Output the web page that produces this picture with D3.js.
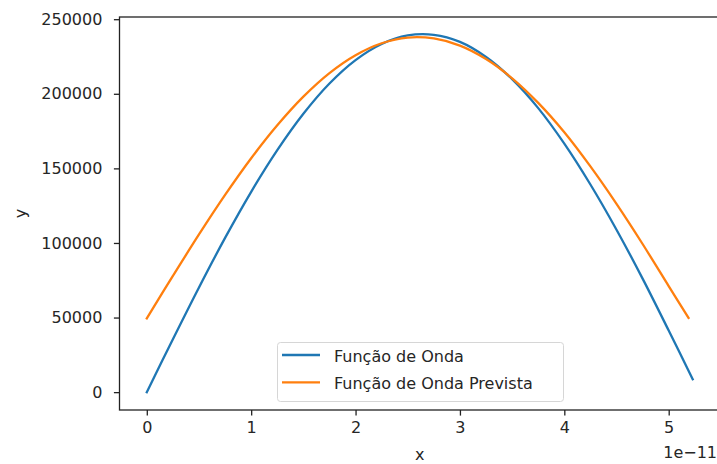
<!DOCTYPE html>
<html>
<head>
<meta charset="utf-8">
<script src="https://cdn.jsdelivr.net/npm/d3@7"></script>
<style>
  html, body { margin: 0; padding: 0; background: #fff; }
  svg { display: block; }
  text { font-family: "DejaVu Sans", sans-serif; fill: #262626; }
</style>
</head>
<body>
<script>
// x positions are expressed in units of 1e-11
const xOnda = [0, 0.25, 0.5, 0.75, 1.0, 1.25, 1.5, 1.75, 2.0, 2.25, 2.5, 2.75, 3.0, 3.25, 3.5, 3.75, 4.0, 4.25, 4.5, 4.75, 5.0, 5.23];
const yOnda = [0, 35500, 70200, 103400, 134300, 162200, 186600, 206900, 222600, 233400, 239100, 239500, 234800, 224700, 209800, 190400, 166600, 139200, 108900, 76100, 41300, 8700];

const xPrevista = [0, 0.25, 0.5, 0.75, 1.0, 1.25, 1.5, 1.75, 2.0, 2.25, 2.5, 2.75, 3.0, 3.25, 3.5, 3.75, 4.0, 4.25, 4.5, 4.75, 5.0, 5.19];
const yPrevista = [49500, 77900, 105700, 132200, 156800, 178900, 198100, 213900, 225900, 233900, 237700, 237100, 232300, 223300, 210400, 193900, 174200, 151300, 126200, 99300, 71100, 49800];

const seriesNames = ["Função de Onda", "Função de Onda Prevista"];
const seriesColors = ["#1f77b4", "#ff7f0e"];

const xTicks = [0, 1, 2, 3, 4, 5];
const yTicks = [0, 50000, 100000, 150000, 200000, 250000];
const xOffsetLabel = "1e\u221211";
const xLabel = "x";
const yLabel = "y";

const W = 717, H = 464;
const plot = { left: 119.5, right: 720, top: 17, bottom: 410 };

const svg = d3.select("body").append("svg").attr("width", W).attr("height", H);

// matplotlib-style 5% data margins
const allX = xOnda.concat(xPrevista), allY = yOnda.concat(yPrevista);
const [x0, x1] = d3.extent(allX), [y0, y1] = d3.extent(allY);
const mx = (x1 - x0) * 0.05, my = (y1 - y0) * 0.05;

const x = d3.scaleLinear().domain([x0 - mx, x1 + mx]).range([plot.left, plot.right]);
const y = d3.scaleLinear().domain([y0 - my, y1 + my]).range([plot.bottom, plot.top]);

const line = d3.line().x(d => x(d[0])).y(d => y(d[1])).curve(d3.curveCatmullRom);

const series = [
  d3.zip(xOnda, yOnda),
  d3.zip(xPrevista, yPrevista)
];

svg.append("g").selectAll("path").data(series).join("path")
  .attr("d", line)
  .attr("fill", "none")
  .attr("stroke", (d, i) => seriesColors[i])
  .attr("stroke-width", 2.3)
  .attr("stroke-linecap", "square");

// axes
const fontSize = 16;
const xAxis = d3.axisBottom(x).tickValues(xTicks).tickFormat(d3.format("d")).tickSize(5.6).tickPadding(6);
const yAxis = d3.axisLeft(y).tickValues(yTicks).tickFormat(d3.format("d")).tickSize(5.6).tickPadding(11.5);

const gx = svg.append("g").attr("transform", `translate(0,${plot.bottom})`).call(xAxis);
const gy = svg.append("g").attr("transform", `translate(${plot.left},0)`).call(yAxis);
[gx, gy].forEach(g => {
  g.select(".domain").remove();
  g.selectAll(".tick line").attr("stroke", "#222").attr("stroke-width", 1.3);
  g.selectAll(".tick text").attr("font-size", fontSize).attr("font-family", "DejaVu Sans").attr("fill", "#262626");
});

// spines
svg.append("rect")
  .attr("x", plot.left).attr("y", plot.top)
  .attr("width", plot.right - plot.left).attr("height", plot.bottom - plot.top)
  .attr("fill", "none").attr("stroke", "#222").attr("stroke-width", 1.3);

// axis labels
svg.append("text").attr("x", (plot.left + plot.right) / 2).attr("y", 460)
  .attr("text-anchor", "middle").attr("font-size", fontSize).text(xLabel);
svg.append("text").attr("transform", `translate(26,${(plot.top + plot.bottom) / 2}) rotate(-90)`)
  .attr("text-anchor", "middle").attr("font-size", fontSize).text(yLabel);
svg.append("text").attr("x", 717).attr("y", 458)
  .attr("text-anchor", "end").attr("font-size", fontSize).text(xOffsetLabel);

// legend
const lg = svg.append("g");
lg.append("rect").attr("x", 277.5).attr("y", 342.5).attr("width", 286).attr("height", 59)
  .attr("rx", 3).attr("fill", "#fff").attr("fill-opacity", 0.8)
  .attr("stroke", "#d6d6d6").attr("stroke-width", 1);
seriesNames.forEach((name, i) => {
  const cy = 355 + i * 27.3;
  lg.append("line").attr("x1", 282).attr("x2", 320).attr("y1", cy).attr("y2", cy)
    .attr("stroke", seriesColors[i]).attr("stroke-width", 2.3);
  lg.append("text").attr("x", 334).attr("y", cy + 6.5).attr("font-size", fontSize).text(name);
});
</script>
</body>
</html>
